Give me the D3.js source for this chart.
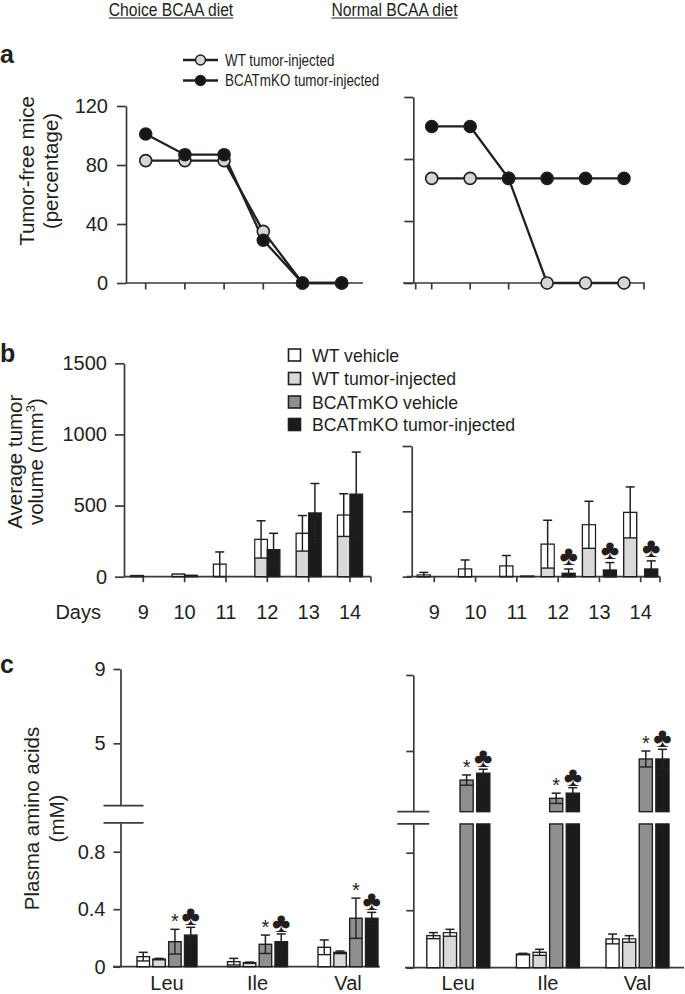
<!DOCTYPE html>
<html><head><meta charset="utf-8">
<script src="https://cdn.jsdelivr.net/npm/d3@7"></script>
<style>
body{margin:0;background:#fff;}
svg{display:block;}
text{font-family:"Liberation Sans",Arial,Helvetica,sans-serif;fill:#231f20;}
</style></head><body>
<svg id="fig" width="685" height="994"></svg>
<script>
// ---------------- DATA ----------------
const dietTitles = ["Choice BCAA diet", "Normal BCAA diet"];
const panelLetters = ["a", "b", "c"];

// panel a
const seriesNamesA = ["WT tumor-injected", "BCATmKO tumor-injected"];
const timepointsA = ["9", "10", "11", "12", "13", "14"];
const yTicksA = [0, 40, 80, 120];
const tumorFreeWTChoice = [83, 83, 83, 35, 0, 0];
const tumorFreeKOChoice = [101, 87, 87, 29, 0, 0];
const tumorFreeWTNormal = [67.5, 67.5, 67.5, 0, 0, 0];
const tumorFreeKONormal = [101, 101, 67.5, 67.5, 67.5, 67.5];

// panel b
const days = ["9", "10", "11", "12", "13", "14"];
const groupNames = ["WT vehicle", "WT tumor-injected", "BCATmKO vehicle", "BCATmKO tumor-injected"];
const yTicksBChoice = [0, 500, 1000, 1500];
const yTicksBNormal = [0, 500, 1000];
const volWTChoice = [8, 19, 88, 262, 305, 433];
const volWTChoiceSD = [0, 0, 86, 131, 125, 150];
const volKOChoice = [0, 10, 0, 190, 448, 580];
const volKOChoiceSD = [0, 0, 0, 115, 207, 296];
const volWTNormal = [13, 59, 82, 249, 397, 492];
const volWTNormalSD = [20, 69, 80, 183, 180, 195];
const volKONormal = [0, 0, 5, 26, 51, 59];
const volKONormalSD = [0, 0, 0, 33, 57, 62];
const clubKONormal = [false, false, false, true, true, true];

// panel c
const aminoAcids = ["Leu", "Ile", "Val"];
const yTicksCLow = [0, 0.4, 0.8];
const yTicksCHigh = [5, 9];
const plasmaChoice = [
  [0.070, 0.035, 0.135],   // WT vehicle
  [0.053, 0.028, 0.100],   // WT tumor-injected
  [0.174, 0.156, 0.337],   // BCATmKO vehicle
  [0.220, 0.174, 0.337]    // BCATmKO tumor-injected
];
const plasmaChoiceSD = [
  [0.030, 0.023, 0.051],
  [0.005, 0.004, 0.009],
  [0.086, 0.064, 0.140],
  [0.054, 0.054, 0.041]
];
const plasmaNormal = [
  [0.223, 0.095, 0.200],
  [0.243, 0.107, 0.200],
  [3.47, 2.51, 4.58],
  [3.83, 2.78, 4.58]
];
const plasmaNormalSD = [
  [0.021, 0.005, 0.034],
  [0.024, 0.021, 0.023],
  [0.27, 0.27, 0.42],
  [0.21, 0.29, 0.51]
];
const starGroup = [false, false, true, false];
const clubGroup = [false, false, false, true];

// ---------------- STYLE ----------------
const INK = "#231f20";
const AX = "#3a3a3a";
const groupFill = ["#ffffff", "#d9d9d9", "#8f8f8f", "#1b1b1b"];
const FONT = "'Liberation Sans', Arial, Helvetica, sans-serif";
const SYM = "'DejaVu Sans', sans-serif";

const svg = d3.select("#fig");

// headers (condensed look)
[[dietTitles[0], 171], [dietTitles[1], 394.5]].forEach(([t, cx]) => {
  const tx = svg.append("text").attr("transform", `translate(${cx},15.5) scale(0.87,1)`)
    .attr("text-anchor", "middle").attr("font-size", 18).text(t);
  const w = tx.node().getComputedTextLength() * 0.87;
  svg.append("line").attr("x1", cx - w / 2).attr("x2", cx + w / 2).attr("y1", 18).attr("y2", 18)
    .attr("stroke", INK).attr("stroke-width", 1.1);
});

// panel letters
[[panelLetters[0], 63], [panelLetters[1], 362], [panelLetters[2], 673]].forEach(([l, y]) => {
  svg.append("text").attr("x", 0).attr("y", y).attr("font-size", 25).attr("font-weight", "bold").text(l);
});

function styleAxis(g, fs) {
  g.selectAll("path,line").attr("stroke", AX).attr("stroke-width", 1.7);
  g.selectAll("text").attr("font-size", fs).attr("font-family", FONT).attr("fill", INK);
}

function yTitle(lines, cy, xs, fs) {
  lines.forEach((t, i) => {
    svg.append("text").attr("transform", `translate(${xs[i]},${cy}) rotate(-90)`)
      .attr("text-anchor", "middle").attr("font-size", fs).text(t);
  });
}

// ---------------- PANEL A ----------------
const panelA = [
  { ax: 126, yr: [283, 106], xr: [145.7, 341.7], xl: [126, 363], endTicks: [], labels: true,
    wt: tumorFreeWTChoice, ko: tumorFreeKOChoice },
  { ax: 413.3, yr: [283, 97], xr: [431.7, 624], xl: [403, 645], endTicks: [415.7, 644], labels: false,
    wt: tumorFreeWTNormal, ko: tumorFreeKONormal }
];
panelA.forEach(cfg => {
  const x = d3.scalePoint().domain(timepointsA).range(cfg.xr);
  const y = d3.scaleLinear().domain([0, 120]).range(cfg.yr);
  const g = svg.append("g").attr("transform", `translate(${cfg.ax},0)`)
    .call(d3.axisLeft(y).tickValues(yTicksA).tickSize(9).tickSizeOuter(0).tickPadding(9)
      .tickFormat(cfg.labels ? d3.format("d") : () => ""));
  styleAxis(g, 20);
  svg.append("line").attr("x1", cfg.xl[0]).attr("x2", cfg.xl[1]).attr("y1", y(0)).attr("y2", y(0))
    .attr("stroke", AX).attr("stroke-width", 1.7);
  timepointsA.map(d => x(d)).concat(cfg.endTicks).forEach(px => {
    svg.append("line").attr("x1", px).attr("x2", px).attr("y1", y(0)).attr("y2", y(0) + 6.5)
      .attr("stroke", AX).attr("stroke-width", 1.7);
  });
  const line = d3.line().x((d, i) => x(timepointsA[i])).y(d => y(d));
  [cfg.wt, cfg.ko].forEach(s => {
    svg.append("path").attr("d", line(s)).attr("fill", "none").attr("stroke", INK).attr("stroke-width", 2.3);
  });
  [[cfg.wt, "#d6d6d6"], [cfg.ko, "#161616"]].forEach(([s, f]) => {
    s.forEach((v, i) => {
      svg.append("circle").attr("cx", x(timepointsA[i])).attr("cy", y(v)).attr("r", 6)
        .attr("fill", f).attr("stroke", INK).attr("stroke-width", 1.6);
    });
  });
});
yTitle(["Tumor-free mice", "(percentage)"], 171, [34, 58], 20.5);

// legend a
[[seriesNamesA[0], "#d6d6d6", 60], [seriesNamesA[1], "#161616", 80.5]].forEach(([t, f, cy]) => {
  svg.append("line").attr("x1", 183).attr("x2", 218).attr("y1", cy).attr("y2", cy)
    .attr("stroke", INK).attr("stroke-width", 2.3);
  svg.append("circle").attr("cx", 200.5).attr("cy", cy).attr("r", 5).attr("fill", f)
    .attr("stroke", INK).attr("stroke-width", 1.4);
  svg.append("text").attr("transform", `translate(225,${cy + 5.8}) scale(0.84,1)`)
    .attr("font-size", 16).text(t);
});

// ---------------- BAR HELPERS ----------------
function drawBar(x0, w, yBottom, yTop, fill) {
  svg.append("rect").attr("x", x0).attr("y", yTop).attr("width", w)
    .attr("height", Math.max(0, yBottom - yTop)).attr("fill", fill)
    .attr("stroke", INK).attr("stroke-width", 1.4);
}
function drawErr(x0, w, yVal, yHi, yLo, fill, capW) {
  const xc = x0 + w / 2;
  if (yLo !== null && yLo > yVal + 0.5) {
    if (fill === groupFill[1]) {
      svg.append("rect").attr("x", x0 + 0.7).attr("y", yVal + 0.7).attr("width", w - 1.4)
        .attr("height", Math.max(0, yLo - yVal - 0.7)).attr("fill", "#ffffff");
    }
    svg.append("line").attr("x1", x0).attr("x2", x0 + w).attr("y1", yLo).attr("y2", yLo)
      .attr("stroke", INK).attr("stroke-width", 1.4);
    svg.append("line").attr("x1", xc).attr("x2", xc).attr("y1", yVal).attr("y2", yLo)
      .attr("stroke", INK).attr("stroke-width", 1.4);
  }
  if (yHi < yVal - 0.5) {
    svg.append("line").attr("x1", xc).attr("x2", xc).attr("y1", yHi).attr("y2", yVal)
      .attr("stroke", INK).attr("stroke-width", 1.5);
    svg.append("line").attr("x1", xc - capW / 2).attr("x2", xc + capW / 2).attr("y1", yHi).attr("y2", yHi)
      .attr("stroke", INK).attr("stroke-width", 1.5);
  }
}
function club(xc, yBottom) {
  svg.append("text").attr("x", xc).attr("y", yBottom).attr("text-anchor", "middle")
    .attr("font-family", SYM).attr("font-size", 28).text("\u2663");
}
function star(xc, yBottom) {
  svg.append("text").attr("x", xc).attr("y", yBottom).attr("text-anchor", "middle")
    .attr("font-size", 20).text("*");
}

// ---------------- PANEL B ----------------
const panelB = [
  { ax: 124, yr: [576.7, 363.3], ymax: 1500, ticks: yTicksBChoice, labels: true,
    xr: [143.3, 350], xl: [124, 371], wtOff: [-12.5, 12.5], koOff: [0, 12.5],
    wt: volWTChoice, wtSD: volWTChoiceSD, ko: volKOChoice, koSD: volKOChoiceSD, clubs: null },
  { ax: 411.7, yr: [576.7, 446], ymax: 1000, ticks: yTicksBNormal, labels: false,
    xr: [434.3, 640.7], xl: [406.7, 660], wtOff: [-17, 13], koOff: [4, 13],
    wt: volWTNormal, wtSD: volWTNormalSD, ko: volKONormal, koSD: volKONormalSD, clubs: clubKONormal }
];
panelB.forEach(cfg => {
  const x = d3.scalePoint().domain(days).range(cfg.xr);
  const y = d3.scaleLinear().domain([0, cfg.ymax]).range(cfg.yr);
  const g = svg.append("g").attr("transform", `translate(${cfg.ax},0)`)
    .call(d3.axisLeft(y).tickValues(cfg.ticks).tickSize(9).tickSizeOuter(0).tickPadding(8)
      .tickFormat(cfg.labels ? d3.format("d") : () => ""));
  styleAxis(g, 20);
  svg.append("line").attr("x1", cfg.xl[0]).attr("x2", cfg.xl[1]).attr("y1", y(0)).attr("y2", y(0))
    .attr("stroke", AX).attr("stroke-width", 1.7);
  days.map(d => x(d)).concat([cfg.xl[1]]).forEach(px => {
    svg.append("line").attr("x1", px).attr("x2", px).attr("y1", y(0)).attr("y2", y(0) + 5.5)
      .attr("stroke", AX).attr("stroke-width", 1.7);
  });
  days.forEach((d, i) => {
    svg.append("text").attr("x", x(d)).attr("y", 619).attr("text-anchor", "middle")
      .attr("font-size", 20).text(d);
    [[cfg.wt, cfg.wtSD, cfg.wtOff, groupFill[1]], [cfg.ko, cfg.koSD, cfg.koOff, groupFill[3]]]
      .forEach(([vals, sds, off, fill]) => {
        const v = vals[i], sd = sds[i];
        if (v <= 0) return;
        const x0 = x(d) + off[0], w = off[1];
        drawBar(x0, w, y(0), y(v), fill);
        if (sd > 0) drawErr(x0, w, y(v), y(v + sd), y(Math.max(0, v - sd)), fill, 9);
      });
    if (cfg.clubs && cfg.clubs[i]) {
      club(x(d) + cfg.koOff[0] + cfg.koOff[1] / 2, y(cfg.ko[i] + cfg.koSD[i]) - 4);
    }
  });
});
svg.append("text").attr("x", 101).attr("y", 619).attr("text-anchor", "end").attr("font-size", 20).text("Days");
svg.append("text").attr("transform", "translate(21.5,461.7) rotate(-90)").attr("text-anchor", "middle")
  .attr("font-size", 20.5).text("Average tumor");
svg.append("text").attr("transform", "translate(43,461.7) rotate(-90)").attr("text-anchor", "middle")
  .attr("font-size", 20.5).html('volume (mm<tspan dy="-8" font-size="13">3</tspan><tspan dy="8">)</tspan>');

// legend b
[355, 378.5, 402, 424.5].forEach((cy, i) => {
  svg.append("rect").attr("x", 288.5).attr("y", cy - 6).attr("width", 12).attr("height", 12)
    .attr("fill", groupFill[i]).attr("stroke", INK).attr("stroke-width", 1.6);
  svg.append("text").attr("x", 312).attr("y", cy + 6.5).attr("font-size", 17.7).text(groupNames[i]);
});

// ---------------- PANEL C ----------------
const panelC = [
  { ax: 120.5, base: 966.7, lowH: 143.75, up5: 743.3, up9: 669, breakUp: 805.7,
    xr: [167, 348], half: 30, xl: [113, 380], labels: true, bx: [-17, 23],
    vals: plasmaChoice, sds: plasmaChoiceSD },
  { ax: 413.3, base: 967.7, lowH: 143.75, up5: 751, up9: 675, breakUp: 811.7,
    xr: [458.3, 637.5], half: 31.5, xl: [405, 684], labels: false, bx: [-16, 16],
    vals: plasmaNormal, sds: plasmaNormalSD }
];
panelC.forEach(cfg => {
  const x = d3.scalePoint().domain(aminoAcids).range(cfg.xr);
  const xi = d3.scaleBand().domain(groupNames).range([-cfg.half, cfg.half]).paddingInner(0.21);
  const yLow = d3.scaleLinear().domain([0, 1]).range([cfg.base, cfg.base - cfg.lowH]);
  const yUp = d3.scaleLinear().domain([5, 9]).range([cfg.up5, cfg.up9]);
  const yUpAxis = yUp.copy().domain([yUp.invert(cfg.breakUp), 9]).range([cfg.breakUp, cfg.up9]);
  const fmt = d => d === 0 ? "0" : d3.format(".1f")(d);
  const g1 = svg.append("g").attr("transform", `translate(${cfg.ax},0)`)
    .call(d3.axisLeft(yLow).tickValues(yTicksCLow).tickSize(7).tickSizeOuter(0).tickPadding(8)
      .tickFormat(cfg.labels ? fmt : () => ""));
  styleAxis(g1, 20);
  const g2 = svg.append("g").attr("transform", `translate(${cfg.ax},0)`)
    .call(d3.axisLeft(yUpAxis).tickValues(yTicksCHigh).tickSize(7).tickSizeOuter(0).tickPadding(8)
      .tickFormat(cfg.labels ? d3.format("d") : () => ""));
  styleAxis(g2, 20);
  [cfg.breakUp, yLow(1)].forEach(by => {
    svg.append("line").attr("x1", cfg.ax + cfg.bx[0]).attr("x2", cfg.ax + cfg.bx[1])
      .attr("y1", by).attr("y2", by).attr("stroke", AX).attr("stroke-width", 1.7);
  });
  svg.append("line").attr("x1", cfg.xl[0]).attr("x2", cfg.xl[1]).attr("y1", cfg.base).attr("y2", cfg.base)
    .attr("stroke", AX).attr("stroke-width", 1.7);
  aminoAcids.forEach((aa, j) => {
    svg.append("text").attr("x", x(aa)).attr("y", 990).attr("text-anchor", "middle")
      .attr("font-size", 20).text(aa);
    groupNames.forEach((gn, k) => {
      const v = cfg.vals[k][j], sd = cfg.sds[k][j];
      const x0 = x(aa) + xi(gn), w = xi.bandwidth(), fill = groupFill[k];
      let errTop;
      if (v <= 1) {
        drawBar(x0, w, yLow(0), yLow(v), fill);
        drawErr(x0, w, yLow(v), yLow(v + sd), yLow(Math.max(0, v - sd)), fill, 9);
        errTop = yLow(v + sd);
      } else {
        drawBar(x0, w, yLow(0), yLow(1), fill);
        drawBar(x0, w, cfg.breakUp, yUp(v), fill);
        drawErr(x0, w, yUp(v), yUp(v + sd), Math.min(cfg.breakUp, yUp(v - sd)), fill, 9);
        errTop = yUp(v + sd);
      }
      if (starGroup[k]) star(x0 + w / 2, errTop - 1);
      if (clubGroup[k]) club(x0 + w / 2, errTop - 2);
    });
  });
});
yTitle(["Plasma amino acids", "(mM)"], 818.5, [38.5, 64], 20.5);
</script>
</body></html>
